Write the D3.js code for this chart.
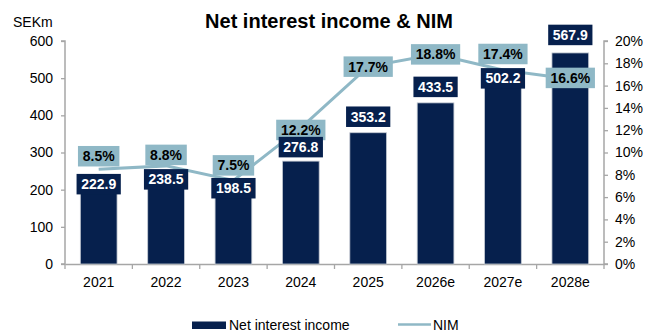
<!DOCTYPE html>
<html>
<head>
<meta charset="utf-8">
<script src="https://cdn.jsdelivr.net/npm/d3@7"></script>
<style>
  html, body { margin: 0; padding: 0; background: #fff; }
  svg { display: block; font-family: "Liberation Sans", Arial, sans-serif; }
</style>
</head>
<body>
<svg id="chart" width="650" height="336"></svg>
<script>
// Net interest income (SEKm) and net interest margin by year
const years = ["2021", "2022", "2023", "2024", "2025", "2026e", "2027e", "2028e"];
const netInterestIncome = [222.9, 238.5, 198.5, 276.8, 353.2, 433.5, 502.2, 567.9];
const nim = [8.5, 8.8, 7.5, 12.2, 17.7, 18.8, 17.4, 16.6];
const leftTicks = [0, 100, 200, 300, 400, 500, 600];
const rightTicks = [0, 2, 4, 6, 8, 10, 12, 14, 16, 18, 20];

// Label nudges (px) so boxes sit clear of each other
const incomeLabelDy = [3, 4, -2, -14, -16, -16, 1, -18];
const nimLabelDy = [-13, -11, -15, 2, 0, 0, -16, -1];

const NAVY = "#06204d";
const TEAL = "#8fb8c6";
const AXIS = "#a6a6a6";

const svg = d3.select("#chart");
const margin = { left: 65, right: 46, top: 41, bottom: 72 };
const W = 650, H = 336;
const x0 = margin.left, x1 = W - margin.right;
const y0 = H - margin.bottom, y1 = margin.top;

const x = d3.scaleBand().domain(years).range([x0, x1]).paddingInner(0).paddingOuter(0);
const yL = d3.scaleLinear().domain([0, 600]).range([y0, y1]);
const yR = d3.scaleLinear().domain([0, 20]).range([y0, y1]);

// Title and unit
svg.append("text")
  .attr("x", 329).attr("y", 28)
  .attr("text-anchor", "middle")
  .attr("font-size", 20).attr("font-weight", "bold").attr("fill", "#000")
  .text("Net interest income & NIM");
svg.append("text")
  .attr("x", 13).attr("y", 27)
  .attr("font-size", 14).attr("fill", "#000")
  .text("SEKm");

// Left axis
const gL = svg.append("g").attr("transform", `translate(${x0},0)`)
  .call(d3.axisLeft(yL).tickValues(leftTicks).tickSize(4).tickPadding(8));
// Right axis
const gR = svg.append("g").attr("transform", `translate(${x1},0)`)
  .call(d3.axisRight(yR).tickValues(rightTicks).tickSize(4).tickPadding(7)
    .tickFormat(d => d + "%"));
// Bottom axis with ticks at category boundaries
const gB = svg.append("g").attr("transform", `translate(0,${y0})`)
  .call(d3.axisBottom(x).tickSize(0).tickPadding(13));
gB.selectAll(".boundary")
  .data(d3.range(years.length + 1))
  .join("line")
  .attr("class", "boundary")
  .attr("x1", i => x0 + i * x.step()).attr("x2", i => x0 + i * x.step())
  .attr("y1", 0).attr("y2", 5)
  .attr("stroke", AXIS).attr("stroke-width", 1.3);

[gL, gR, gB].forEach(g => {
  g.selectAll(".domain").attr("stroke", AXIS).attr("stroke-width", 1.5);
  g.selectAll(".tick line").attr("stroke", AXIS).attr("stroke-width", 1.3);
  g.selectAll(".tick text").attr("font-size", 14).attr("fill", "#000")
    .attr("font-family", "Liberation Sans, Arial, sans-serif");
});
gR.select(".domain").attr("d", `M4,${y0}H0V${y1}H4`);
gL.select(".domain").attr("d", `M-4,${y0}H0V${y1}H-4`);

// Bars
const barW = x.step() * 0.545;
svg.append("g").selectAll("rect")
  .data(netInterestIncome)
  .join("rect")
  .attr("x", (d, i) => x(years[i]) + x.bandwidth() / 2 - barW / 2)
  .attr("width", barW)
  .attr("y", d => yL(d))
  .attr("height", d => y0 - yL(d))
  .attr("fill", NAVY)
  .attr("stroke", "#c4cad3").attr("stroke-width", 0.8);

// NIM line
const cx = i => x(years[i]) + x.bandwidth() / 2;
svg.append("path")
  .datum(nim)
  .attr("d", d3.line().x((d, i) => cx(i)).y(d => yR(d)))
  .attr("fill", "none").attr("stroke", TEAL).attr("stroke-width", 3);

// Boxed value labels
function boxLabel(g, text, cxv, cyv, fill, color) {
  const t = g.append("text")
    .attr("x", cxv).attr("y", cyv)
    .attr("text-anchor", "middle").attr("dominant-baseline", "central")
    .attr("font-size", 14).attr("font-weight", "bold").attr("fill", color)
    .text(text);
  const bb = t.node().getBBox();
  const padX = 4.5, h = 20.5;
  g.insert("rect", () => t.node())
    .attr("x", cxv - bb.width / 2 - padX).attr("y", cyv - h / 2)
    .attr("width", bb.width + padX * 2).attr("height", h)
    .attr("fill", fill);
}

const gNim = svg.append("g");
nim.forEach((v, i) => {
  boxLabel(gNim.append("g"), d3.format(".1f")(v) + "%", cx(i), yR(v) + nimLabelDy[i], TEAL, "#000");
});
const gInc = svg.append("g");
netInterestIncome.forEach((v, i) => {
  boxLabel(gInc.append("g"), d3.format(".1f")(v), cx(i), yL(v) + incomeLabelDy[i], NAVY, "#fff");
});

// Legend
const lg = svg.append("g");
lg.append("rect").attr("x", 192).attr("y", 321.5).attr("width", 34).attr("height", 7.5).attr("fill", NAVY);
lg.append("text").attr("x", 229).attr("y", 330).attr("font-size", 14).attr("fill", "#000").text("Net interest income");
lg.append("line").attr("x1", 398).attr("x2", 431).attr("y1", 324.5).attr("y2", 324.5)
  .attr("stroke", TEAL).attr("stroke-width", 2.5);
lg.append("text").attr("x", 433).attr("y", 330).attr("font-size", 14).attr("fill", "#000").text("NIM");
</script>
</body>
</html>
